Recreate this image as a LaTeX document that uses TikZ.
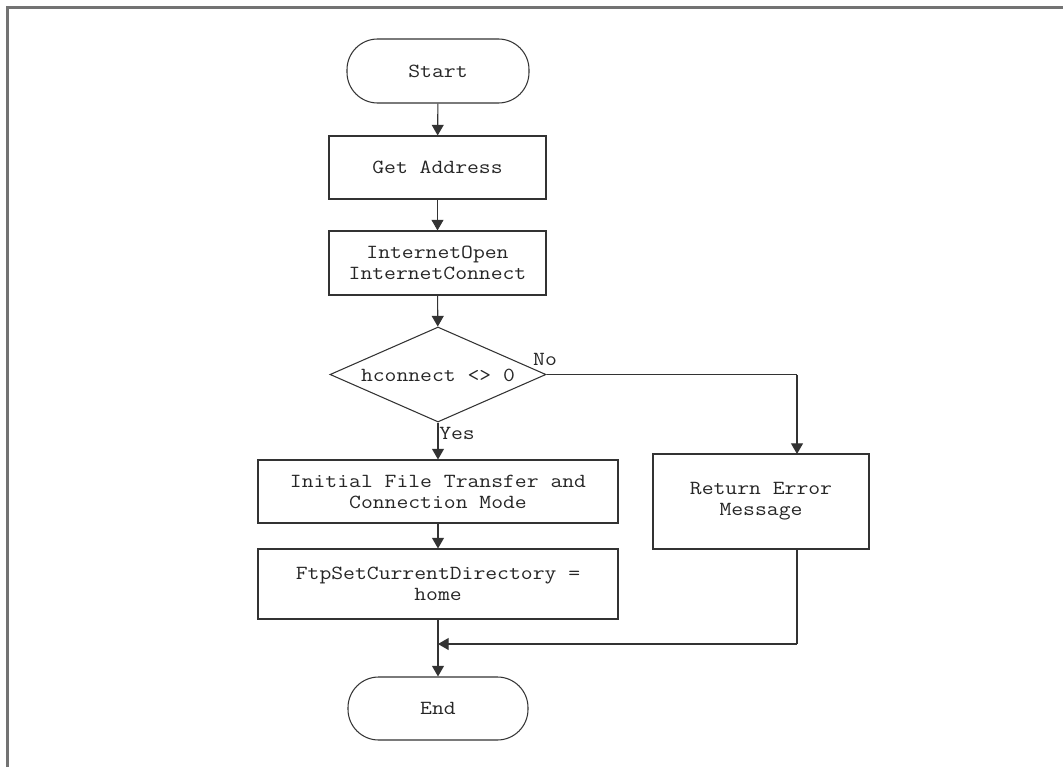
\documentclass[tikz,border=0pt]{standalone}
\usepackage{fontspec}
\newfontfamily\courfont{Latin Modern Mono}[FakeStretch=1.15]
\usetikzlibrary{arrows.meta,shapes.geometric}

\tikzset{
  every node/.style={font=\courfont\fontsize{15pt}{15.8pt}\selectfont, text=black!85, inner sep=0pt},
  procbox/.style={draw=black!80, line width=0.8pt, rectangle, align=center},
  termbox/.style={draw=black!80, line width=0.8pt, rectangle, rounded corners=23pt, align=center},
  decbox/.style={draw=black!80, line width=0.8pt, diamond, aspect=2.27},
  flow/.style={draw=black!80, line width=0.8pt, -{Triangle[length=8pt,width=9pt]}},
  wire/.style={draw=black!80, line width=0.8pt},
  frameline/.style={draw=black!55, line width=1.6pt}
}

\begin{document}
\begin{tikzpicture}[x=0.75pt, y=-0.75pt]
  \useasboundingbox (0,0) rectangle (1063,767);

  % page frame (top and left edges)
  \draw[frameline] (7.5,767) -- (7.5,7.5) -- (1063,7.5);

  % flowchart nodes
  \node[termbox, minimum width=182*0.75pt, minimum height=64*0.75pt] (start) at (438,71) {Start};
  \node[procbox, minimum width=217*0.75pt, minimum height=63*0.75pt] (addr) at (437.5,167.5) {Get Address};
  \node[procbox, minimum width=217*0.75pt, minimum height=64*0.75pt] (open) at (437.5,263) {InternetOpen\\InternetConnect};
  \node[decbox, minimum width=216*0.75pt, minimum height=95*0.75pt] (test) at (438,374.5) {};
  \node at (438,375) {hconnect <> 0};
  \node[procbox, minimum width=360*0.75pt, minimum height=63*0.75pt] (init) at (438,491.5) {Initial File Transfer and\\Connection Mode};
  \node[procbox, minimum width=360*0.75pt, minimum height=70*0.75pt] (cwd) at (438,584) {FtpSetCurrentDirectory =\\home};
  \node[procbox, minimum width=216*0.75pt, minimum height=95*0.75pt] (err) at (761,501.5) {Return Error\\Message};
  \node[termbox, minimum width=180*0.75pt, minimum height=63*0.75pt] (end) at (438,708.5) {End};

  % branch labels
  \node[anchor=west] (yes) at (439,433) {Yes};
  \node (no) at (545,359) {No};

  % helper points for the routed connectors
  \coordinate (noturn) at (797,374.5);
  \coordinate (errtop) at (797,454);
  \coordinate (errbot) at (797,549);
  \coordinate (errturn) at (797,644);
  \coordinate (join) at (438,644);

  % connectors
  \draw[flow] (start) -- (addr);
  \draw[flow] (addr) -- (open);
  \draw[flow] (open) -- (test);
  \draw[flow] (test) -- (init);
  \draw[flow] (init) -- (cwd);
  \draw[flow] (cwd) -- (end);
  \draw[wire] (test.east) -- (noturn);
  \draw[flow] (noturn) -- (errtop);
  \draw[wire] (errbot) -- (errturn);
  \draw[flow] (errturn) -- (join);
\end{tikzpicture}
\end{document}
